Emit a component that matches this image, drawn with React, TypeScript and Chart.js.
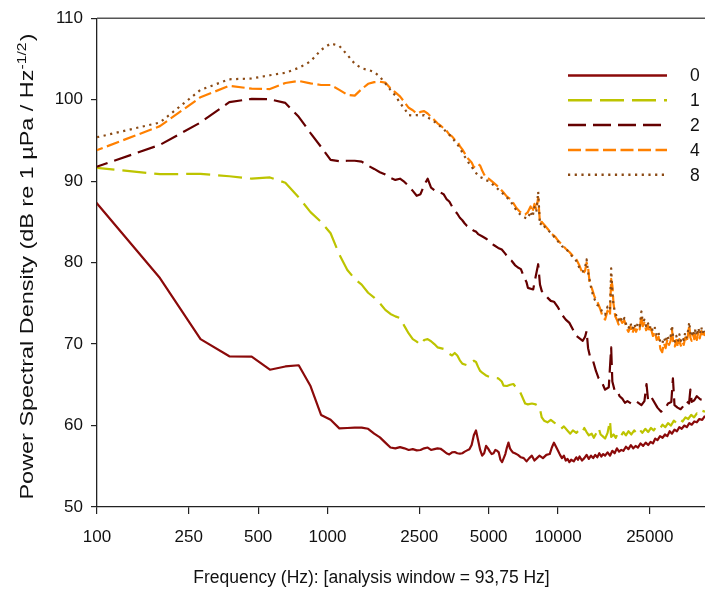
import React, { useEffect, useRef } from 'react';
import { Chart, registerables } from 'chart.js';

Chart.register(...registerables);

// ---------- data ----------
const seriesLabels = ['0', '1', '2', '4', '8'];
const xTickValues = [100, 250, 500, 1000, 2500, 5000, 10000, 25000];
const yTickValues = [50, 60, 70, 80, 90, 100, 110];
const xTitle = 'Frequency (Hz): [analysis window = 93,75 Hz]';
const yTitleMain = 'Power Spectral Density (dB re 1 µPa / Hz';
const yTitleSup = '-1/2';
const yTitleEnd = ')';

const psd0: [number, number][] = [
  [93.75, 88.2], [187.5, 78.1], [281.25, 70.6], [375, 68.5], [468.75, 68.45], [562.5, 66.85],
  [656.25, 67.25], [750, 67.4], [843.75, 64.85], [937.5, 61.3], [1031.25, 60.7], [1125, 59.65],
  [1218.75, 59.7], [1312.5, 59.75], [1406.25, 59.75], [1500, 59.6], [1593.75, 59.0], [1687.5, 58.55],
  [1781.25, 57.9], [1875, 57.3], [1968.75, 57.2], [2062.5, 57.35], [2156.25, 57.2], [2250, 57.0],
  [2343.75, 57.1], [2437.5, 56.95], [2531.25, 57.0], [2625, 57.2], [2718.75, 57.3], [2812.5, 57.0],
  [2906.25, 57.1], [3000, 57.2], [3093.75, 57.15], [3187.5, 56.9], [3281.25, 56.6], [3375, 56.45],
  [3468.75, 56.7], [3562.5, 56.75], [3656.25, 56.6], [3750, 56.55], [3843.75, 56.6], [3937.5, 56.8],
  [4031.25, 56.95], [4125, 57.1], [4218.75, 57.6], [4312.5, 58.8], [4406.25, 59.4], [4500, 58.2],
  [4593.75, 57.0], [4687.5, 56.3], [4781.25, 56.6], [4875, 57.5], [4968.75, 57.2], [5062.5, 56.8],
  [5156.25, 56.5], [5250, 56.6], [5343.75, 57.0], [5437.5, 56.9], [5531.25, 56.7], [5625, 55.8],
  [5718.75, 55.5], [5812.5, 56.0], [5906.25, 56.5], [6000, 57.3], [6093.75, 57.9], [6187.5, 57.2],
  [6281.25, 56.9], [6375, 56.7], [6500, 56.6], [6700, 56.4], [6900, 56.1], [7100, 56.0],
  [7300, 55.6], [7500, 56.0], [7700, 56.3], [7900, 55.7], [8100, 56.0], [8300, 56.3],
  [8600, 56.0], [8900, 56.4], [9200, 56.5], [9400, 57.3], [9600, 57.9], [9800, 57.4],
  [10000, 56.9], [10200, 56.4], [10400, 56.0], [10600, 56.3], [10800, 55.7], [11000, 55.9],
  [11200, 55.5], [11400, 55.8], [11700, 55.6], [12000, 56.1], [12200, 55.8], [12400, 56.2],
  [12700, 55.7], [13000, 56.0], [13300, 56.4], [13600, 55.9], [13900, 56.3], [14200, 56.0],
  [14500, 56.4], [14800, 56.1], [15100, 56.6], [15400, 56.2], [15700, 56.5], [16000, 56.3],
  [16400, 56.7], [16800, 56.3], [17200, 56.9], [17600, 56.6], [18000, 57.2], [18400, 56.8],
  [18800, 57.0], [19200, 56.9], [19700, 57.4], [20200, 57.1], [20700, 57.6], [21200, 57.2],
  [21700, 57.5], [22200, 57.3], [22800, 57.8], [23400, 57.5], [24000, 57.9], [24600, 57.6],
  [25200, 58.0], [25800, 57.8], [26400, 58.4], [27000, 58.2], [27700, 58.7], [28400, 58.5],
  [29100, 58.9], [29800, 58.7], [30500, 59.3], [31200, 59.0], [32000, 59.5], [32800, 59.3],
  [33600, 59.8], [34400, 59.6], [35300, 60.0], [36200, 59.8], [37100, 60.3], [38000, 60.1],
  [39000, 60.5], [40000, 60.4], [41000, 60.8], [42200, 60.7], [43400, 61.2],
];

const psd1: [number, number][] = [
  [93.75, 91.7], [187.5, 90.85], [281.25, 90.9], [375, 90.6], [468.75, 90.3], [562.5, 90.45],
  [656.25, 89.8], [750, 88.0], [843.75, 86.2], [937.5, 85.0], [1031.25, 83.6], [1125, 81.0],
  [1218.75, 79.1], [1312.5, 78.0], [1406.25, 77.3], [1500, 76.3], [1593.75, 75.7], [1687.5, 75.0],
  [1781.25, 74.2], [1875, 73.7], [1968.75, 73.4], [2062.5, 73.2], [2156.25, 72.2], [2250, 71.3],
  [2343.75, 70.6], [2437.5, 70.3], [2531.25, 69.9], [2625, 70.5], [2718.75, 70.6], [2812.5, 70.35],
  [2906.25, 70.0], [3000, 69.6], [3093.75, 69.5], [3187.5, 69.4], [3281.25, 69.0], [3375, 68.8],
  [3468.75, 68.6], [3562.5, 68.9], [3656.25, 68.6], [3750, 68.0], [3843.75, 67.6], [3937.5, 67.5],
  [4031.25, 67.4], [4125, 67.7], [4218.75, 67.8], [4312.5, 67.95], [4406.25, 67.8], [4500, 67.2],
  [4593.75, 66.7], [4687.5, 66.5], [4900, 66.1], [5100, 65.9], [5300, 65.85], [5500, 65.8],
  [5700, 65.4], [5800, 64.9], [6000, 64.85], [6200, 65.0], [6400, 65.1], [6600, 64.6],
  [6800, 64.3], [7000, 63.5], [7200, 62.7], [7400, 62.6], [7700, 62.7], [8000, 62.6],
  [8300, 62.3], [8500, 61.0], [8700, 60.6], [9000, 60.4], [9300, 60.7], [9600, 60.4],
  [10000, 60.0], [10300, 59.6], [10600, 59.9], [11000, 59.37], [11300, 59.0], [11600, 59.4],
  [12000, 59.1], [12300, 59.4], [12700, 59.1], [13000, 59.7], [13300, 59.2], [13600, 58.8],
  [14000, 59.0], [14300, 58.5], [14600, 59.0], [15000, 59.7], [15300, 58.9], [15600, 58.7],
  [16000, 58.4], [16400, 59.1], [16800, 60.6], [17000, 58.6], [17400, 58.9], [17800, 58.5],
  [18200, 59.1], [18700, 58.7], [19200, 59.2], [19700, 58.8], [20200, 59.3], [20800, 58.9],
  [21400, 59.4], [22000, 59.0], [22600, 59.5], [23200, 59.1], [23900, 59.6], [24600, 59.2],
  [25300, 59.7], [26000, 59.4], [26800, 59.9], [27600, 59.6], [28400, 60.1], [29200, 59.8],
  [30000, 60.3], [30900, 60.0], [31800, 60.6], [32700, 60.3], [33700, 60.8], [34700, 60.5],
  [35700, 61.0], [36700, 60.8], [37800, 61.3], [38900, 61.0], [40000, 61.5], [41200, 61.3],
  [42300, 61.8], [43400, 61.7],
];

const psd2: [number, number][] = [
  [93.75, 91.5], [187.5, 94.45], [281.25, 97.2], [375, 99.7], [468.75, 100.1], [562.5, 100.05],
  [656.25, 99.6], [750, 97.9], [843.75, 95.9], [937.5, 94.2], [1031.25, 92.6], [1125, 92.45],
  [1218.75, 92.5], [1312.5, 92.5], [1406.25, 92.4], [1500, 91.9], [1593.75, 91.5], [1687.5, 91.1],
  [1781.25, 90.8], [1875, 90.4], [1968.75, 90.15], [2062.5, 90.3], [2156.25, 89.9], [2250, 89.4],
  [2343.75, 88.8], [2437.5, 88.2], [2531.25, 88.4], [2625, 89.5], [2718.75, 90.3], [2812.5, 89.2],
  [2906.25, 88.9], [3000, 88.7], [3093.75, 88.6], [3187.5, 88.4], [3281.25, 87.8], [3375, 87.5],
  [3468.75, 86.9], [3562.5, 86.4], [3656.25, 86.0], [3750, 85.5], [3843.75, 85.2], [3937.5, 84.8],
  [4031.25, 84.5], [4125, 84.4], [4218.75, 84.1], [4312.5, 83.9], [4406.25, 83.8], [4500, 83.5],
  [4700, 83.2], [4900, 82.9], [5100, 82.4], [5300, 82.1], [5500, 81.8], [5700, 81.6],
  [5900, 81.1], [6100, 80.5], [6300, 80.2], [6500, 79.7], [6700, 79.4], [6900, 79.2],
  [7100, 78.3], [7300, 77.6], [7400, 76.9], [7800, 76.7], [8000, 78.3], [8200, 79.8],
  [8350, 77.3], [8500, 76.5], [8700, 76.2], [9000, 75.7], [9300, 75.3], [9600, 75.2],
  [10000, 74.5], [10400, 73.6], [10800, 73.0], [11200, 72.6], [11600, 71.8], [12000, 71.0],
  [12400, 70.7], [12800, 70.4], [13100, 70.9], [13300, 71.6], [13500, 69.5], [13800, 68.3],
  [14200, 67.9], [14600, 66.7], [15000, 65.8], [15500, 65.3], [16000, 64.4], [16600, 64.7],
  [17000, 69.6], [17200, 65.4], [17600, 64.3], [18000, 64.3], [18500, 63.6], [19000, 63.3],
  [19500, 62.8], [20000, 63.0], [21000, 62.6], [22000, 62.9], [23000, 62.5], [23700, 63.0],
  [24200, 65.1], [24600, 63.0], [25500, 63.4], [27000, 62.2], [28000, 61.7], [29000, 62.0],
  [30000, 62.7], [31000, 62.9], [31500, 65.8], [32000, 62.5], [33000, 62.2], [34000, 62.0],
  [35000, 62.4], [36000, 63.0], [37000, 62.7], [37500, 64.4], [38000, 62.9], [39000, 63.1],
  [40000, 63.6], [41500, 63.2], [43400, 63.1],
];

const psd4: [number, number][] = [
  [93.75, 93.5], [187.5, 96.75], [281.25, 100.3], [375, 101.7], [468.75, 101.35], [562.5, 101.3],
  [656.25, 102.05], [750, 102.3], [843.75, 102.0], [937.5, 101.8], [1031.25, 101.8], [1125, 101.2],
  [1218.75, 100.6], [1312.5, 100.5], [1406.25, 101.3], [1500, 101.95], [1593.75, 102.15], [1687.5, 102.2],
  [1781.25, 102.1], [1875, 101.4], [1968.75, 100.9], [2062.5, 100.4], [2156.25, 99.7], [2250, 99.0],
  [2343.75, 98.7], [2437.5, 98.3], [2531.25, 98.5], [2625, 98.6], [2718.75, 98.3], [2812.5, 97.9],
  [2906.25, 97.5], [3000, 97.1], [3093.75, 96.8], [3187.5, 96.5], [3281.25, 96.2], [3375, 95.7],
  [3468.75, 95.5], [3562.5, 95.1], [3656.25, 94.9], [3750, 94.3], [3843.75, 93.9], [3937.5, 93.4],
  [4031.25, 92.9], [4125, 92.6], [4218.75, 92.3], [4312.5, 91.7], [4406.25, 92.0], [4500, 92.1],
  [4593.75, 91.9], [4687.5, 91.3], [4781.25, 90.8], [4875, 90.4], [5000, 90.3], [5200, 89.9],
  [5400, 89.5], [5600, 89.1], [5800, 88.6], [6000, 88.1], [6200, 87.8], [6400, 87.3],
  [6600, 86.7], [6800, 86.3], [7000, 86.0], [7200, 85.9], [7400, 86.2], [7600, 86.9],
  [7750, 86.2], [7900, 87.2], [8050, 86.5], [8200, 88.0], [8350, 84.8], [8500, 85.0],
  [8800, 84.5], [9100, 84.0], [9400, 83.5], [9700, 83.2], [10000, 82.7], [10400, 82.2],
  [10800, 81.7], [11200, 81.3], [11600, 80.8], [12000, 80.4], [12400, 79.6], [12800, 78.6],
  [13100, 79.0], [13300, 80.0], [13500, 79.4], [13700, 77.6], [14000, 76.9], [14400, 75.8],
  [14800, 75.2], [15200, 74.4], [15600, 73.4], [16000, 73.0], [16400, 74.1], [16800, 73.5],
  [17000, 78.0], [17200, 77.2], [17400, 75.0], [17700, 73.4], [18000, 73.0], [18300, 72.4],
  [18600, 73.1], [19000, 72.6], [19400, 72.9], [19800, 72.0], [20200, 71.5], [20600, 72.2],
  [21000, 71.3], [21400, 72.0], [21800, 71.5], [22200, 72.1], [22600, 71.8], [23000, 73.6],
  [23300, 72.2], [23700, 72.6], [24100, 71.7], [24500, 72.3], [24900, 71.4], [25300, 71.9],
  [25800, 71.0], [26300, 71.5], [26800, 70.5], [27300, 70.9], [27800, 69.4], [28300, 69.0],
  [28800, 70.1], [29300, 69.5], [29800, 70.6], [30300, 69.9], [30800, 70.4], [31200, 71.8],
  [31600, 70.3], [32100, 69.7], [32600, 70.5], [33100, 69.6], [33600, 70.6], [34100, 69.8],
  [34600, 70.3], [35100, 69.9], [35600, 70.8], [36100, 70.2], [36600, 71.1], [37100, 72.3],
  [37500, 70.8], [38000, 70.4], [38500, 71.2], [39000, 70.6], [39500, 71.4], [40000, 70.5],
  [40600, 71.5], [41200, 70.7], [41800, 71.6], [42400, 70.8], [43000, 71.4], [43400, 71.0],
];

const psd8: [number, number][] = [
  [93.75, 95.2], [187.5, 97.2], [281.25, 101.2], [375, 102.5], [468.75, 102.6], [562.5, 103.0],
  [656.25, 103.3], [750, 103.9], [843.75, 104.7], [937.5, 106.1], [1031.25, 106.9], [1125, 106.6],
  [1218.75, 105.5], [1312.5, 104.4], [1406.25, 103.85], [1500, 103.65], [1593.75, 103.4], [1687.5, 102.8],
  [1781.25, 102.0], [1875, 101.2], [1968.75, 100.5], [2062.5, 99.6], [2156.25, 98.9], [2250, 98.1],
  [2343.75, 98.05], [2437.5, 98.1], [2531.25, 98.0], [2625, 98.1], [2718.75, 97.8], [2812.5, 97.6],
  [2906.25, 97.3], [3000, 97.0], [3093.75, 96.7], [3187.5, 96.4], [3281.25, 96.0], [3375, 95.7],
  [3468.75, 95.4], [3562.5, 94.9], [3656.25, 94.5], [3750, 94.1], [3843.75, 93.5], [3937.5, 93.0],
  [4031.25, 92.6], [4125, 92.1], [4218.75, 91.8], [4312.5, 91.3], [4406.25, 91.0], [4500, 90.7],
  [4593.75, 90.5], [4687.5, 90.4], [4781.25, 90.3], [4875, 90.1], [5000, 90.0], [5200, 89.6],
  [5400, 89.2], [5600, 88.8], [5800, 88.4], [6000, 88.0], [6200, 87.6], [6400, 87.0],
  [6600, 86.4], [6800, 86.0], [7000, 85.7], [7200, 85.5], [7400, 85.4], [7600, 86.3],
  [7750, 85.6], [7900, 86.8], [8050, 86.2], [8200, 88.7], [8350, 84.6], [8500, 84.9],
  [8800, 84.3], [9100, 83.9], [9400, 83.6], [9700, 83.0], [10000, 82.6], [10400, 82.0],
  [10800, 81.8], [11200, 81.1], [11600, 80.7], [12000, 80.2], [12400, 79.3], [12800, 78.9],
  [13100, 79.4], [13300, 80.4], [13500, 78.8], [13700, 77.9], [14000, 76.5], [14400, 75.5],
  [14800, 74.8], [15200, 74.6], [15600, 73.8], [16000, 73.6], [16400, 74.6], [16800, 74.2],
  [17000, 79.3], [17200, 76.5], [17400, 74.7], [17700, 73.9], [18000, 73.3], [18300, 72.9],
  [18600, 73.4], [19000, 72.7], [19400, 73.2], [19800, 72.3], [20200, 71.9], [20600, 72.6],
  [21000, 71.8], [21400, 72.5], [21800, 71.9], [22200, 72.6], [22600, 72.2], [23000, 74.0],
  [23300, 72.7], [23700, 73.0], [24100, 72.2], [24500, 72.7], [24900, 71.9], [25300, 72.3],
  [25800, 71.5], [26300, 72.0], [26800, 71.0], [27300, 71.4], [27800, 70.2], [28300, 70.0],
  [28800, 70.8], [29300, 70.2], [29800, 71.1], [30300, 70.5], [30800, 71.0], [31200, 72.3],
  [31600, 70.8], [32100, 70.3], [32600, 71.0], [33100, 70.3], [33600, 71.2], [34100, 70.4],
  [34600, 70.9], [35100, 70.5], [35600, 71.4], [36100, 70.8], [36600, 71.6], [37100, 72.7],
  [37500, 71.3], [38000, 70.9], [38500, 71.7], [39000, 71.1], [39500, 71.9], [40000, 71.0],
  [40600, 72.0], [41200, 71.2], [41800, 72.1], [42400, 71.3], [43000, 71.9], [43400, 71.5],
];

const seriesData = [psd0, psd1, psd2, psd4, psd8];
const seriesColors = ['#8B0A0A', '#BDC400', '#650000', '#FF8000', '#8B4A14'];
const seriesDash: number[][] = [[], [24, 8], [18, 7], [13, 4.5], [2.2, 4.5]];

// ---------- layout ----------
const W = 705;
const H = 589;
const FONT = '"Liberation Sans", Arial, Helvetica, sans-serif';

const decorPlugin = {
  id: 'decor',
  afterDraw(chart: any) {
    const { ctx, chartArea: a } = chart;
    ctx.save();
    // top frame line
    ctx.strokeStyle = '#555555';
    ctx.lineWidth = 1.5;
    ctx.beginPath();
    ctx.moveTo(a.left, a.top);
    ctx.lineTo(a.right, a.top);
    ctx.stroke();

    // legend
    const lx0 = 568;
    const lx1 = 667;
    const ly0 = 75.5;
    const lstep = 24.8;
    chart.data.datasets.forEach((ds: any, i: number) => {
      const y = ly0 + i * lstep;
      ctx.strokeStyle = ds.borderColor;
      ctx.lineWidth = 2.5;
      ctx.lineCap = 'butt';
      ctx.setLineDash(ds.borderDash || []);
      ctx.beginPath();
      ctx.moveTo(lx0, y);
      ctx.lineTo(lx1, y);
      ctx.stroke();
      ctx.setLineDash([]);
      ctx.fillStyle = '#111111';
      ctx.font = `17.5px ${FONT}`;
      ctx.textAlign = 'left';
      ctx.textBaseline = 'middle';
      ctx.fillText(ds.label, 690, y + 1);
    });

    // x title
    ctx.fillStyle = '#111111';
    ctx.font = `17.5px ${FONT}`;
    ctx.textAlign = 'center';
    ctx.textBaseline = 'alphabetic';
    ctx.fillText(xTitle, 371.5, 583);

    // y title (rotated, with superscript), stretched along its length like the original
    ctx.save();
    ctx.translate(32.5, 266.5);
    ctx.rotate(-Math.PI / 2);
    ctx.textAlign = 'left';
    ctx.textBaseline = 'alphabetic';
    ctx.font = `18px ${FONT}`;
    const w1 = ctx.measureText(yTitleMain).width;
    const w3 = ctx.measureText(yTitleEnd).width;
    ctx.font = `12px ${FONT}`;
    const w2 = ctx.measureText(yTitleSup).width;
    const total = w1 + w2 + w3 + 1;
    const targetLen = 466;
    ctx.scale(targetLen / total, 1);
    const x0 = -total / 2;
    ctx.font = `18px ${FONT}`;
    ctx.fillText(yTitleMain, x0, 0);
    ctx.font = `12px ${FONT}`;
    ctx.fillText(yTitleSup, x0 + w1, -7);
    ctx.font = `18px ${FONT}`;
    ctx.fillText(yTitleEnd, x0 + w1 + w2 + 1, 0);
    ctx.restore();

    ctx.restore();
  },
};

export default function App() {
  const ref = useRef<HTMLCanvasElement>(null);

  useEffect(() => {
    document.body.style.margin = '0';
    const canvas = ref.current;
    if (!canvas) return;
    const chart = new Chart(canvas, {
      type: 'line',
      data: {
        datasets: seriesData.map((pts, i) => ({
          label: seriesLabels[i],
          data: pts.map(([x, y]) => ({ x, y })),
          borderColor: seriesColors[i],
          backgroundColor: seriesColors[i],
          borderDash: seriesDash[i],
          borderWidth: 2.2,
          borderCapStyle: 'butt',
          borderJoinStyle: 'round',
          pointRadius: 0,
          pointHoverRadius: 0,
          tension: 0,
          fill: false,
          order: seriesData.length - i,
        })),
      },
      options: {
        responsive: false,
        animation: false,
        devicePixelRatio: 1,
        events: [],
        layout: { padding: { top: 15, right: 0, left: 0, bottom: 0 } },
        plugins: {
          legend: { display: false },
          tooltip: { enabled: false },
          title: { display: false },
        },
        scales: {
          x: {
            type: 'logarithmic',
            min: 100,
            max: 43400,
            afterBuildTicks: (s: any) => {
              s.ticks = xTickValues.map((v) => ({ value: v }));
            },
            afterFit: (s: any) => {
              s.height = 82;
            },
            ticks: {
              callback: (v: any) => String(v),
              font: { family: FONT, size: 17 },
              color: '#111111',
              padding: 13,
              maxRotation: 0,
              autoSkip: false,
            },
            grid: {
              display: true,
              drawOnChartArea: false,
              drawTicks: true,
              tickLength: 7,
              color: '#222222',
              lineWidth: 1.2,
            },
            border: { display: true, color: '#222222', width: 1.3 },
            title: { display: false },
          },
          y: {
            type: 'linear',
            min: 50,
            max: 110,
            afterBuildTicks: (s: any) => {
              s.ticks = yTickValues.map((v) => ({ value: v }));
            },
            afterFit: (s: any) => {
              s.width = 97;
            },
            ticks: {
              font: { family: FONT, size: 17 },
              color: '#111111',
              padding: 8,
            },
            grid: {
              display: true,
              drawOnChartArea: false,
              drawTicks: true,
              tickLength: 6,
              color: '#222222',
              lineWidth: 1.2,
            },
            border: { display: true, color: '#222222', width: 1.3 },
            title: { display: false },
          },
        },
      },
      plugins: [decorPlugin],
    } as any);
    return () => chart.destroy();
  }, []);

  return (
    <div style={{ position: 'fixed', left: 0, top: 0, width: W, height: H, background: '#ffffff' }}>
      <canvas ref={ref} width={W} height={H} style={{ display: 'block', width: W, height: H }} />
    </div>
  );
}
